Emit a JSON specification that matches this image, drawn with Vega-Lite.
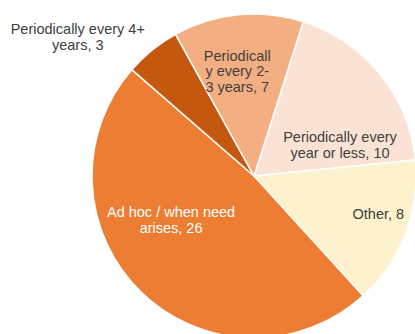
{
  "$schema": "https://vega.github.io/schema/vega-lite/v6.json",
  "width": 415,
  "height": 334,
  "autosize": "none",
  "padding": 0,
  "background": "white",
  "config": {"view": {"stroke": null}},
  "data": {
    "values": [
      {"idx": 1, "cat": "year", "value": 10, "label": "Periodically every\nyear or less, 10"},
      {"idx": 2, "cat": "other", "value": 8, "label": "Other, 8"},
      {"idx": 3, "cat": "adhoc", "value": 26, "label": "Ad hoc / when need\narises, 26"},
      {"idx": 4, "cat": "four", "value": 3, "label": "Periodically every 4+\nyears, 3"},
      {"idx": 5, "cat": "two", "value": 7, "label": "Periodicall\ny every 2-\n3 years, 7"}
    ]
  },
  "encoding": {
    "theta": {"field": "value", "type": "quantitative", "stack": true, "scale": {"range": [0.309, 6.592]}},
    "order": {"field": "idx", "type": "quantitative"}
  },
  "layer": [
    {
      "mark": {"type": "arc", "x": 254, "y": 176, "outerRadius": 162, "stroke": "white", "strokeWidth": 1.5},
      "encoding": {
        "color": {
          "field": "cat", "type": "nominal", "legend": null,
          "scale": {
            "domain": ["year", "other", "adhoc", "four", "two"],
            "range": ["#FAE3D5", "#FEF1CE", "#EC7D32", "#C4580F", "#F3AF81"]
          }
        }
      }
    },
    {
      "mark": {"type": "text", "x": 254, "y": 176, "radius": 120, "dx": -5, "dy": 0, "font": "Liberation Sans", "fontSize": 14.5, "lineHeight": 15.5, "lineBreak": "\n", "align": "center", "baseline": "middle", "fill": "#404040"},
      "encoding": {"text": {"condition": {"test": "datum.cat === 'two'", "field": "label"}, "value": ""}}
    },
    {
      "mark": {"type": "text", "x": 254, "y": 176, "radius": 90, "dx": 16, "dy": 19, "font": "Liberation Sans", "fontSize": 14.5, "lineHeight": 15.5, "lineBreak": "\n", "align": "center", "baseline": "middle", "fill": "#404040"},
      "encoding": {"text": {"condition": {"test": "datum.cat === 'year'", "field": "label"}, "value": ""}}
    },
    {
      "mark": {"type": "text", "x": 254, "y": 176, "radius": 130, "dx": 3, "dy": -8, "font": "Liberation Sans", "fontSize": 14.5, "lineHeight": 15.5, "lineBreak": "\n", "align": "center", "baseline": "middle", "fill": "#404040"},
      "encoding": {"text": {"condition": {"test": "datum.cat === 'other'", "field": "label"}, "value": ""}}
    },
    {
      "mark": {"type": "text", "x": 254, "y": 176, "radius": 90, "dx": -20, "dy": -27, "font": "Liberation Sans", "fontSize": 14.5, "lineHeight": 15.5, "lineBreak": "\n", "align": "center", "baseline": "middle", "fill": "#FFFFFF"},
      "encoding": {"text": {"condition": {"test": "datum.cat === 'adhoc'", "field": "label"}, "value": ""}}
    },
    {
      "mark": {"type": "text", "x": 254, "y": 176, "radius": 180, "dx": -63, "dy": -6, "font": "Liberation Sans", "fontSize": 14.5, "lineHeight": 15.5, "lineBreak": "\n", "align": "center", "baseline": "middle", "fill": "#404040"},
      "encoding": {"text": {"condition": {"test": "datum.cat === 'four'", "field": "label"}, "value": ""}}
    }
  ]
}
